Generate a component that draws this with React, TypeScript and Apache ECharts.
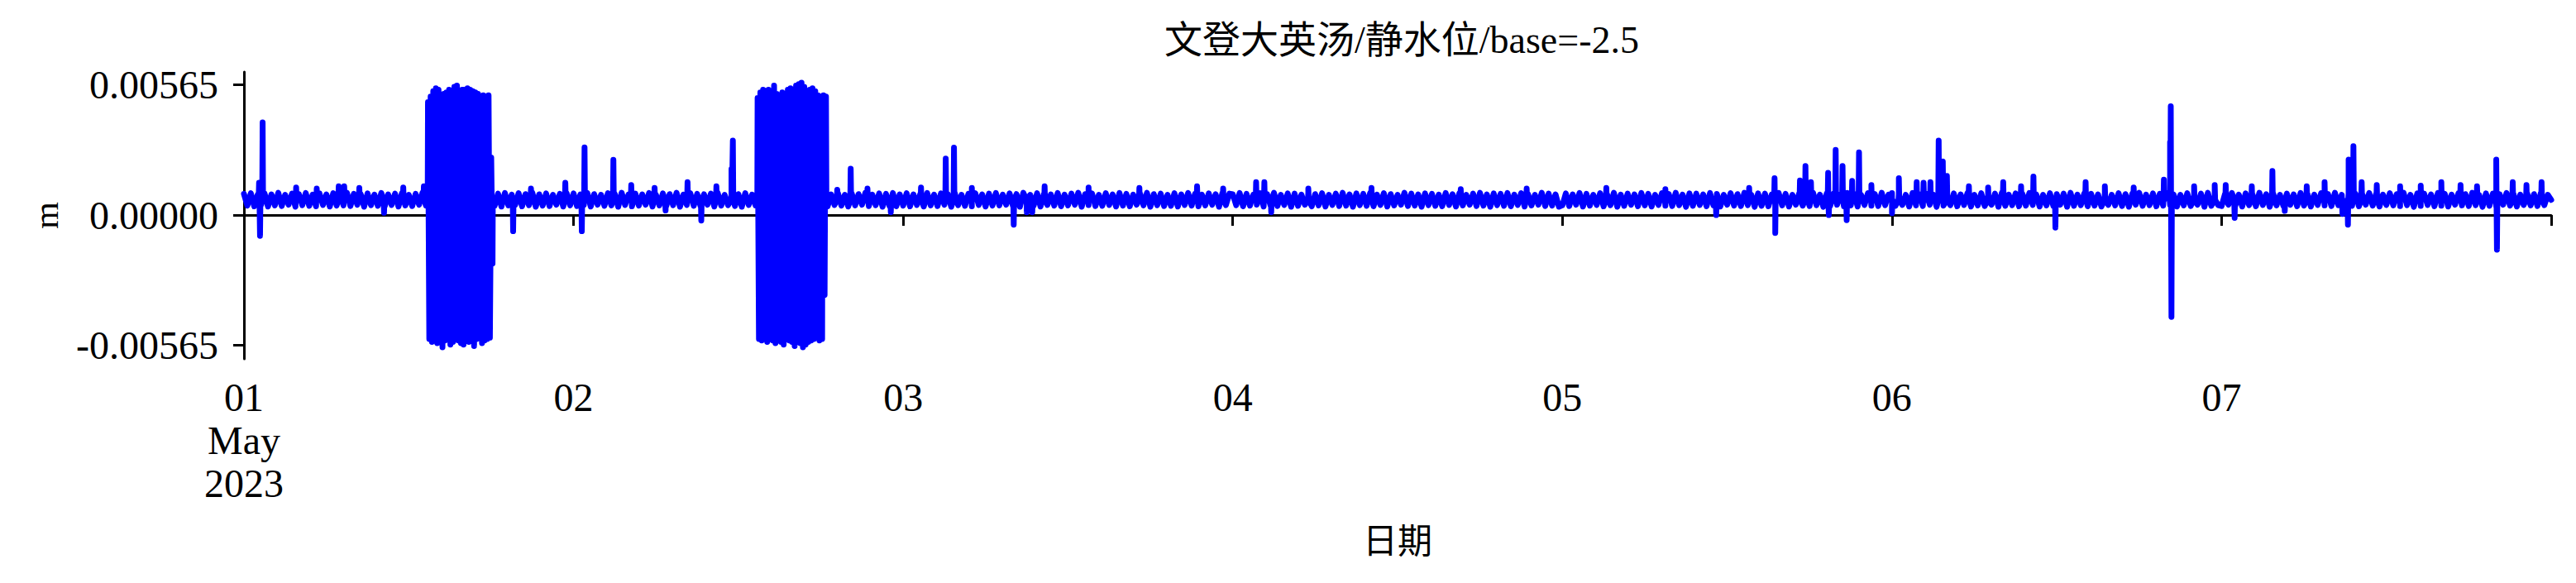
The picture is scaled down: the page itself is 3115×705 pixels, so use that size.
import React, { useEffect, useRef } from "react";
import * as echarts from "echarts";

// ---------- texts ----------
const titleText = "文登大英汤/静水位/base=-2.5";
const xName = "日期";
const yName = "m";
const xTickLabels = ["01\nMay\n2023", "02", "03", "04", "05", "06", "07", ""];
const yTickValues = [-0.00565, 0, 0.00565];

// ---------- data (values in 1e-5 m, hours since 2023-05-01 00:00, quarter-hour samples) ----------
const unit = 1e-5;
const stepHours = 0.25;
const _ = null;
const day1 = [
  92,41,95,38,89,44,94,37,90,42,97,39,88,45,93,36,91,43,96,40,
  89,38,94,44,90,37,95,41,88,42,97,39,92,45,91,36,94,43,89,40,
  96,38,90,44,93,37,95,42,88,39,92,45,97,41,
  _,_,_,_,_,_,_,_,_,_,_,_,_,_,_,_,_,_,_,
  40,93,37,96,42,89,44,95,38,91,43,97,36,90,41,94,39,88,45,92,37,95,42];
const day2 = [
  94,39,90,43,96,37,91,45,88,40,95,42,92,36,97,44,89,38,93,41,
  90,45,96,37,88,42,94,39,91,43,97,36,89,44,95,40,92,38,90,45,
  93,37,96,41,88,43,94,39,91,36,95,44,89,42,
  _,_,_,_,_,_,_,_,_,_,_,_,_,_,_,_,_,_,_,
  93,38,90,44,96,41,88,37,95,42,91,45,97,39,89,43,94,36,92,40,96,38,90];
const day3 = [
  41,95,38,90,44,93,37,96,42,89,39,94,45,91,36,97,43,88,40,92,
  38,95,44,90,37,93,41,96,42,89,45,94,39,91,36,97,43,88,40,95,
  37,92,44,90,41,96,38,89,42,93,45,97,36,91,43,94,39,88,40,95,
  44,90,37,96,41,92,38,89,45,94,42,97,36,91,43,93,39,88,40,95,
  37,90,44,96,41,92,38,89,42,94,45,91,36,97,43,93];
const day4 = [
  90,43,96,38,92,41,89,45,95,37,91,42,97,39,88,44,94,36,93,40,
  89,45,96,38,91,42,95,37,88,44,93,39,97,41,90,36,94,43,92,40,
  96,38,89,44,95,37,91,42,88,45,97,39,93,41,90,36,94,43,92,40,
  89,38,96,44,91,37,95,42,88,45,93,39,97,41,90,36,94,43,92,40,
  96,38,89,44,95,37,91,42,88,45,97,39,93,41,90,36];
const day5 = [
  42,94,39,90,45,96,37,92,41,88,44,95,38,91,43,97,36,89,40,93,
  45,90,38,96,42,92,37,88,44,95,41,91,39,97,43,89,36,94,40,93,
  44,90,38,96,42,92,37,88,45,95,41,91,39,97,43,89,36,94,40,93,
  38,90,44,96,42,92,37,88,45,95,41,91,39,97,43,89,36,94,40,93,
  45,90,38,96,42,92,37,88,44,95,41,91,39,97,43,89];
const day6 = [
  95,40,91,44,88,37,96,42,90,39,93,45,89,36,97,41,92,43,94,38,
  90,44,96,37,88,42,95,39,91,45,93,36,97,40,89,43,94,38,92,41,
  96,44,90,37,88,42,95,39,91,45,93,36,97,40,89,43,94,38,92,41,
  90,37,96,44,88,42,95,39,91,36,93,45,97,40,89,43,94,38,92,41,
  96,44,90,37,88,42,95,39,91,45,93,36,97,40,89,43];
const day7 = [
  39,92,45,96,41,89,37,94,43,90,38,97,44,91,36,95,42,88,40,93,
  45,90,38,96,41,92,37,89,44,95,42,91,39,97,43,88,36,94,40,93,
  38,90,45,96,41,92,37,89,44,95,42,91,39,97,43,88,36,94,40,93,
  44,90,38,96,41,92,37,89,45,95,42,91,39,97,43,88,36,94,40,93,
  38,90,45,96,41,92,37,89,44,95,42,91,39,97,43,88,66];

const blob1Window = [13.4, 18.1];
const blob1Top = [490,514,538,550,544,514,526,532,544,538,556,562,526,544,544,550,544,538,532,526,514,520,514,520,250];
const blob1Bottom = [-538,-550,-532,-556,-550,-574,-544,-538,-562,-550,-532,-544,-556,-562,-538,-550,-544,-568,-538,-532,-556,-544,-538,-532,-210];
const blob2Window = [37.4, 42.1];
const blob2Top = [508,532,544,538,544,520,562,526,514,532,526,544,550,538,562,568,574,556,514,544,550,538,520,514];
const blob2Bottom = [-538,-544,-532,-550,-538,-544,-556,-532,-550,-562,-538,-544,-550,-568,-538,-556,-574,-562,-550,-544,-538,-532,-544,-538];

const spikeFoot = 66;
const spikes: [number, number][] = [
  [1.1,140],[1.17,-90],[1.36,402],[3.8,120],[5.3,115],[6.9,125],[7.3,125],[8.4,118],[10.2,10],[11.6,120],[13.1,125],
  [19.6,-70],[20.9,115],[23.4,140],[24.6,-70],[24.8,294],[26.9,240],[28.2,130],[29.9,118],[30.7,20],[32.3,143],[33.3,-24],[34.4,125],[35.5,200],[35.6,323],
  [42.2,520],[42.28,-347],[42.38,514],
  [43.2,110],[44.18,201],[45.4,115],[47.1,12],[49.3,120],[51.1,245],[51.7,293],[53.0,118],[56.05,-42],[57.0,12],[57.4,12],[58.3,125],[61.5,120],[65.2,118],[69.4,125],[71.3,115],[73.7,143],[74.3,143],[74.8,12],[77.5,115],[82.1,118],[88.6,112],[93.4,115],[99.2,118],[103.5,112],
  [107.2,0],[109.6,118],[111.45,160],[111.5,-78],[113.3,150],[113.7,213],[114.1,143],[115.35,183],[115.4,0],[115.9,283],[116.4,213],[116.7,-22],[117.1,148],[117.6,272],[118.5,130],[120.0,8],[120.5,160],[121.8,143],[122.3,140],[122.8,143],[123.4,323],[123.7,233],[124.0,170],[125.6,125],[127.0,120],[128.1,143],[129.4,125],[130.3,167],[131.9,-54],[134.1,143],[135.5,125],[137.6,120],[139.8,154],[140.25,317],[140.3,472],[140.35,-442],[142.0,125],[143.5,130],[144.3,130],[144.95,-12],[146.2,125],[147.7,191],[148.6,18],[150.2,125],[151.5,143],[152.8,5],[153.2,-42],[153.25,241],[153.6,299],[154.2,143],[155.3,130],[157.0,125],[158.5,128],[160.0,143],[161.4,130],[162.6,125],[164.0,241],[164.05,-150],[165.2,143],[166.2,130],[167.3,143],
];

function buildData(): [number, number][] {
  const pts: [number, number][] = [];
  [day1, day2, day3, day4, day5, day6, day7].forEach((arr, d) => {
    arr.forEach((v, i) => {
      if (v !== null && v !== undefined) pts.push([d * 24 + i * stepHours, v as number]);
    });
  });
  const addBlob = (win: number[], top: number[], bottom: number[]) => {
    const vals: number[] = [];
    for (let i = 0; i < top.length; i++) {
      vals.push(top[i]);
      vals.push(bottom[i]);
    }
    const n = vals.length;
    pts.push([win[0] - 0.02, spikeFoot]);
    vals.forEach((v, k) => pts.push([win[0] + (k * (win[1] - win[0])) / (n - 1), v]));
    pts.push([win[1] + 0.02, spikeFoot]);
  };
  addBlob(blob1Window, blob1Top, blob1Bottom);
  addBlob(blob2Window, blob2Top, blob2Bottom);
  spikes.forEach(([h, v]) => {
    pts.push([h - 0.03, spikeFoot], [h, v], [h + 0.03, spikeFoot]);
  });
  pts.sort((a, b) => a[0] - b[0]);
  return pts.map(([h, v]) => [h, v * unit]);
}

const FONT = "'Liberation Serif', 'Noto Sans CJK SC', serif";

export default function App() {
  const ref = useRef<HTMLDivElement>(null);
  useEffect(() => {
    if (!ref.current) return;
    const chart = echarts.init(ref.current, undefined, { renderer: "svg" });
    const axisLine = { show: true, lineStyle: { color: "#000", width: 3 } };
    chart.setOption({
      animation: false,
      backgroundColor: "#fff",
      title: {
        text: titleText,
        left: 1690,
        textAlign: "center",
        top: 20,
        textStyle: { fontSize: 46, fontWeight: "normal", color: "#000", fontFamily: FONT },
      },
      grid: { left: 295, right: 30, top: 87, bottom: 271 },
      xAxis: {
        type: "value",
        min: 0,
        max: 168,
        interval: 24,
        name: xName,
        nameLocation: "middle",
        nameGap: 200,
        nameTextStyle: { fontSize: 42, color: "#000", fontFamily: FONT },
        axisLine,
        axisTick: { show: true, length: 13, lineStyle: { color: "#000", width: 3 } },
        axisLabel: {
          formatter: (v: number) => xTickLabels[Math.round(v / 24)] ?? "",
          fontSize: 48,
          lineHeight: 52,
          color: "#000",
          fontFamily: FONT,
          margin: 20,
          showMaxLabel: true,
          showMinLabel: true,
        },
        splitLine: { show: false },
      },
      yAxis: {
        type: "value",
        min: -0.00624,
        max: 0.00621,
        name: yName,
        nameLocation: "middle",
        nameRotate: 90,
        nameGap: 218,
        nameTextStyle: { fontSize: 42, color: "#000", fontFamily: FONT },
        axisLine,
        axisTick: { show: true, length: 13, lineStyle: { color: "#000", width: 3 }, customValues: yTickValues },
        axisLabel: {
          customValues: yTickValues,
          formatter: (v: number) => v.toFixed(5),
          fontSize: 48,
          color: "#000",
          fontFamily: FONT,
          margin: 31,
        },
        splitLine: { show: false },
      },
      series: [
        {
          type: "line",
          data: buildData(),
          symbol: "none",
          showSymbol: false,
          lineStyle: { color: "#0000ff", width: 7, cap: "round", join: "round" },
        },
      ],
    });
    return () => chart.dispose();
  }, []);
  return (
    <div
      ref={ref}
      style={{ position: "absolute", left: 0, top: 0, width: 3115, height: 705 }}
    />
  );
}
